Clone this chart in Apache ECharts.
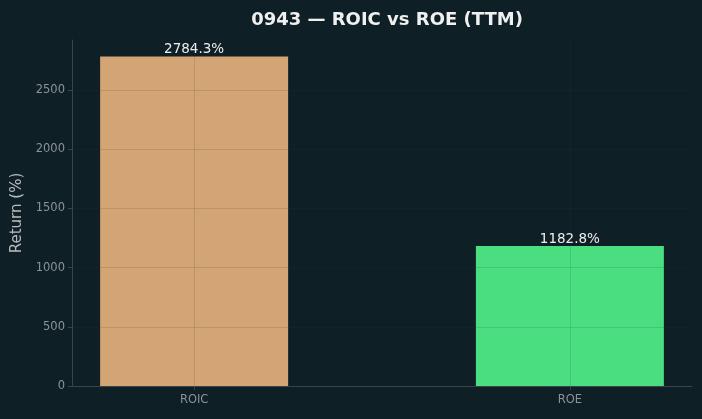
<!DOCTYPE html>
<html>
<head>
<meta charset="utf-8">
<script src="https://cdn.jsdelivr.net/npm/echarts@6/dist/echarts.min.js"></script>
<style>
  html, body { margin: 0; padding: 0; background: #0f1f26; }
  #chart { width: 702px; height: 419px; }
</style>
</head>
<body>
<div id="chart"></div>
<script>
const categories = ['ROIC', 'ROE']
const values = [2784.3, 1182.8]
const barColors = ['#d4a574', '#4ade80']
const yTicks = [0, 500, 1000, 1500, 2000, 2500]
const xTicks = [0, 1]

const chart = echarts.init(document.getElementById('chart'))

// matplotlib-style faint grid drawn on top of the bars
const gridColor = 'rgba(45, 60, 65, 0.16)'
const spineColor = '#3c4448'
const tickText = '#8a9398'

chart.setOption({
  backgroundColor: '#0f1f26',
  animation: false,
  title: {
    text: '0943 — ROIC vs ROE (TTM)',
    left: 382,
    top: 6,
    textAlign: 'center',
    textStyle: { color: '#f0f0f0', fontSize: 18, fontWeight: 'bold', fontFamily: 'DejaVu Sans' }
  },
  grid: { left: 72, right: 10, top: 40, bottom: 33, outerBoundsMode: 'none', containLabel: false },
  xAxis: {
    type: 'value',
    min: -0.325,
    max: 1.325,
    z: 3,
    axisLine: { show: true, onZero: false, lineStyle: { color: spineColor, width: 1 } },
    axisTick: { show: true, length: 4, lineStyle: { color: spineColor }, customValues: xTicks },
    axisLabel: {
      customValues: xTicks,
      color: tickText,
      fontSize: 11.5,
      fontFamily: 'DejaVu Sans',
      margin: 8,
      formatter: v => categories[Math.round(v)]
    },
    splitLine: { show: true, lineStyle: { color: gridColor, width: 1 } }
  },
  yAxis: {
    type: 'value',
    min: 0,
    max: 2923.5,
    z: 3,
    name: 'Return (%)',
    nameLocation: 'middle',
    nameGap: 47,
    nameTextStyle: { color: '#b8bcbe', fontSize: 15, fontFamily: 'DejaVu Sans' },
    axisLine: { show: true, onZero: false, lineStyle: { color: spineColor, width: 1 } },
    axisTick: { show: true, length: 4, lineStyle: { color: spineColor }, customValues: yTicks },
    axisLabel: {
      customValues: yTicks,
      color: tickText,
      fontSize: 11.5,
      fontFamily: 'DejaVu Sans',
      margin: 7,
      formatter: v => String(v)
    },
    splitLine: { show: true, lineStyle: { color: gridColor, width: 1 } }
  },
  series: [{
    type: 'bar',
    barWidth: 188,
    data: values.map((v, i) => ({ value: [i, v], itemStyle: { color: barColors[i] } })),
    label: {
      show: true,
      position: 'top',
      distance: 0,
      color: '#eeeeee',
      fontSize: 13.5,
      fontFamily: 'DejaVu Sans',
      formatter: p => p.value[1].toFixed(1) + '%'
    }
  }]
})
</script>
</body>
</html>
